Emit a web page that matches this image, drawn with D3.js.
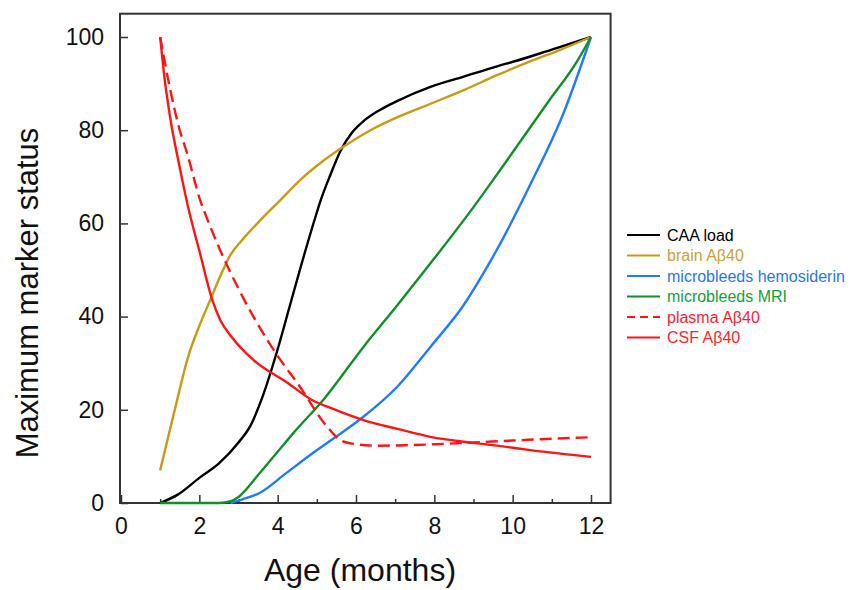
<!DOCTYPE html>
<html>
<head>
<meta charset="utf-8">
<style type="text/css">
body { margin: 0; background: #fff; }
svg { font-family: "Liberation Sans", Arial, sans-serif; }
</style>
</head>
<body>
<svg id="chart" width="858" height="590"></svg>

<script src="https://cdn.jsdelivr.net/npm/d3@7"></script>
<script>

// values: [age in months, % of maximum]
var caaLoad = [[1,0],[1.45,1.8],[2,5.4],[2.5,8.5],[3,13],[3.3,16.5],[3.6,22.5],[4,33],[4.3,42],
  [4.6,51],[4.95,61],[5.1,65],[5.35,70.5],[5.6,75.5],[5.9,79.5],[6.2,82],[6.6,84.3],
  [7.06,86.3],[7.9,89.3],[8.75,91.5],[9.6,93.7],[10.1,94.9],[11,97.3],[12,100]];
var brainAb40 = [[1,7],[1.2,14],[1.43,22],[1.7,31],[2,38],[2.28,43.6],[2.5,48],[2.79,53.2],
  [3.1,56.5],[3.56,60.7],[4.07,65],[4.6,69.5],[5.1,73],[5.6,76],[6.37,80],[7.06,82.8],[8,86],
  [8.75,88.6],[9.6,91.8],[10.46,94.8],[11.2,97.2],[12,100]];
var hemosiderin = [[2.8,0],[3.1,0.8],[3.55,2.2],[4.2,6.3],[4.83,10.3],[5.35,13.4],[6.19,18.5],
  [7.06,25],[7.9,33.5],[8.75,42.5],[9.44,52],[10.46,68.5],[11.3,83.7],[12,100]];
var mri = [[1,0],[2.5,0],[2.8,0.4],[3,1.3],[3.5,6],[4,11],[4.4,15],[5.2,22.5],[6.19,33.5],
  [7.06,42.5],[8,52.5],[9,63.5],[9.6,70.5],[10.9,86],[11.66,95],[12,100]];
var plasmaAb40 = [[1,100],[1.25,89],[1.5,80],[1.69,75],[2.02,65],[2.2,61],[2.53,54.3],[3,46],
  [3.38,40],[4.07,30.7],[4.5,25.8],[5.27,16.3],[5.6,13.5],[5.86,12.8],[6.5,12.3],[7.3,12.4],
  [8,12.6],[9,13],[10,13.4],[11,13.8],[12,14.1]];
var csfAb40 = [[1,100],[1.1,92],[1.25,83],[1.5,72],[1.7,64],[2.02,53.5],[2.33,43.6],[2.55,39],
  [2.79,36],[3.38,30.7],[4.25,25.8],[4.9,22],[5.35,20.4],[6.19,17.8],[7.06,15.9],[7.9,14.2],
  [9,12.9],[9.6,12.3],[10.5,11.3],[12,9.9]];

var seriesNames = ["CAA load", "brain A\u03b240", "microbleeds hemosiderin", "microbleeds MRI", "plasma A\u03b240", "CSF A\u03b240"];
var xMajorTicks = [0, 2, 4, 6, 8, 10, 12];
var xMinorTicks = [1, 3, 5, 7, 9, 11];
var yTicks = [0, 20, 40, 60, 80, 100];

var series = [
  {name: seriesNames[0], values: caaLoad,     color: "#000000", text: "#000000", dash: null},
  {name: seriesNames[1], values: brainAb40,   color: "#c99a14", text: "#c9a23c", dash: null},
  {name: seriesNames[2], values: hemosiderin, color: "#1f7bff", text: "#1f78f0", dash: null},
  {name: seriesNames[3], values: mri,         color: "#10902c", text: "#14a03a", dash: null},
  {name: seriesNames[4], values: plasmaAb40,  color: "#ff1414", text: "#ff1e2e", dash: "12,6"},
  {name: seriesNames[5], values: csfAb40,     color: "#ff1414", text: "#ff1e2e", dash: null}
];

var svg = d3.select("#chart");

var x = d3.scaleLinear().domain([0, 12]).range([121, 591]);
var y = d3.scaleLinear().domain([0, 100]).range([503, 37]);

// frame
svg.append("rect")
    .attr("x", x(0) - 1).attr("y", y(105))
    .attr("width", x(12.5) - x(0) + 1).attr("height", y(0) - y(105))
    .attr("fill", "none").attr("stroke", "#333").attr("stroke-width", 2);

svg.append("g")
    .attr("transform", "translate(0," + y(0) + ")")
    .call(d3.axisBottom(x).tickValues(xMajorTicks).tickSizeInner(-8).tickSizeOuter(0).tickPadding(15));
svg.append("g")
    .attr("transform", "translate(0," + y(0) + ")")
    .call(d3.axisBottom(x).tickValues(xMinorTicks).tickSizeInner(-4).tickSizeOuter(0).tickFormat(""));

svg.append("g")
    .attr("transform", "translate(" + x(0) + ",0)")
    .call(d3.axisLeft(y).tickValues(yTicks).tickSizeInner(-7).tickSizeOuter(0).tickPadding(17));

svg.selectAll(".domain").remove();
svg.selectAll(".tick line").attr("stroke", "#333").attr("stroke-width", 1.5);
svg.selectAll(".tick text").attr("fill", "#111").style("font-size", "23px")
    .style("font-family", "'Liberation Sans', Arial, sans-serif");

// axis titles
svg.append("text")
    .attr("x", 360).attr("y", 581)
    .attr("text-anchor", "middle")
    .style("font-size", "32px").attr("fill", "#111")
    .text("Age (months)");

svg.append("text")
    .attr("transform", "translate(38,293) rotate(-90)")
    .attr("text-anchor", "middle")
    .style("font-size", "31px").attr("fill", "#111")
    .text("Maximum marker status");

// curves
var line = d3.line()
    .x(function(d){ return x(d[0]); })
    .y(function(d){ return y(d[1]); })
    .curve(d3.curveMonotoneX);

svg.append("g").selectAll("path")
    .data(series)
  .enter().append("path")
    .attr("d", function(d){ return line(d.values); })
    .attr("fill", "none")
    .attr("stroke", function(d){ return d.color; })
    .attr("stroke-width", 2.4)
    .attr("stroke-dasharray", function(d){ return d.dash; })
    .attr("stroke-linejoin", "round");

// legend
var legend = svg.append("g").attr("transform", "translate(627,235)");
var row = legend.selectAll("g")
    .data(series)
  .enter().append("g")
    .attr("transform", function(d, i){ return "translate(0," + (i * 20.5) + ")"; });

row.append("line")
    .attr("x1", 0).attr("x2", 33)
    .attr("stroke", function(d){ return d.color; })
    .attr("stroke-width", 2)
    .attr("stroke-dasharray", function(d){ return d.dash ? "8,5" : null; });

row.append("text")
    .attr("x", 40).attr("dy", "0.35em")
    .style("font-size", "16px")
    .attr("fill", function(d){ return d.text; })
    .text(function(d){ return d.name; });

</script>
</body>
</html>
